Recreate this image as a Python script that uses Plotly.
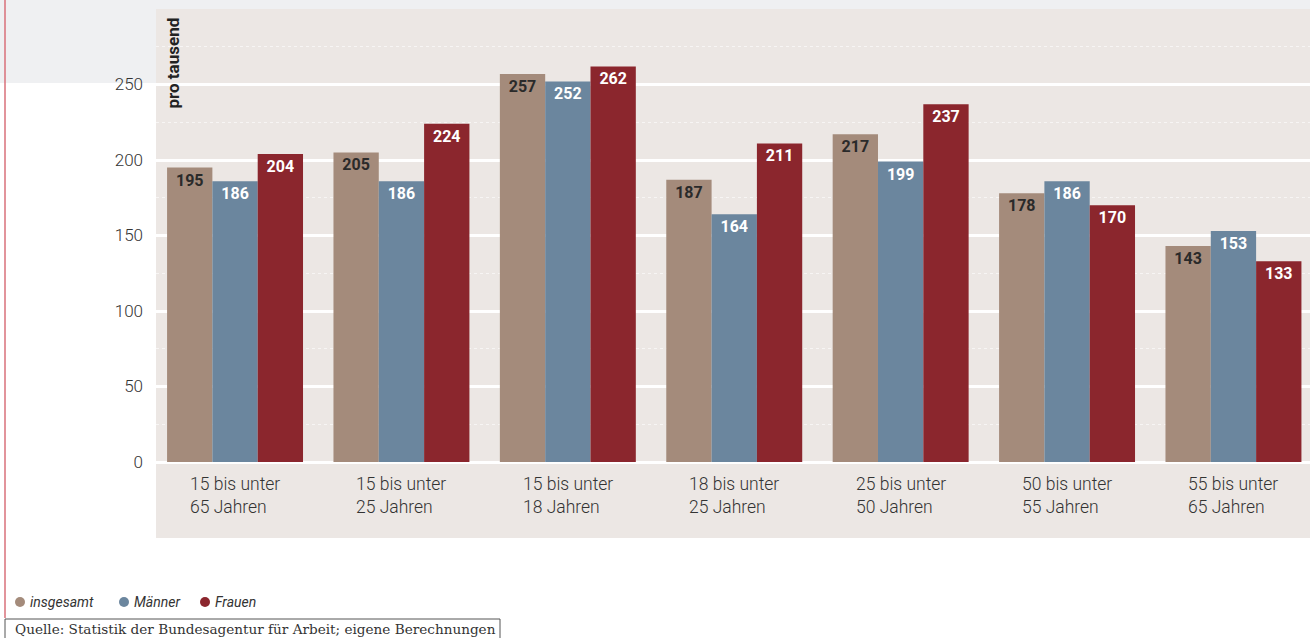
import plotly.graph_objects as go

categories = ["15 bis unter<br>65 Jahren", "15 bis unter<br>25 Jahren", "15 bis unter<br>18 Jahren",
              "18 bis unter<br>25 Jahren", "25 bis unter<br>50 Jahren", "50 bis unter<br>55 Jahren",
              "55 bis unter<br>65 Jahren"]
series_names = ["insgesamt", "Männer", "Frauen"]
insgesamt = [195, 205, 257, 187, 217, 178, 143]
maenner = [186, 186, 252, 164, 199, 186, 153]
frauen = [204, 224, 262, 211, 237, 170, 133]
y_ticks = [0, 50, 100, 150, 200, 250]

colors = ["#a48b7b", "#6b869e", "#8b262d"]
text_colors = ["#2a2a2a", "#ffffff", "#ffffff"]
FONT = "Roboto, Liberation Sans Narrow, sans-serif"

W, H = 1310, 638
L, R, T, B = 156, 0, 9, 176
PW, PH = W - L - R, H - T - B


def px(xp):
    return (xp - L) / PW


def py(yp):
    return (H - B - yp) / PH


fig = go.Figure()
for name, vals, c, tc in zip(series_names, [insgesamt, maenner, frauen], colors, text_colors):
    fig.add_trace(go.Bar(
        x=categories, y=vals, name=name, marker=dict(color=c, line=dict(width=0)),
        text=[str(v) for v in vals], textposition="inside", insidetextanchor="end",
        textangle=0, constraintext="none",
        textfont=dict(family=FONT, size=16, color=tc, weight="bold"),
        showlegend=False, cliponaxis=False,
    ))

shapes = [
    # top grey band
    dict(type="rect", xref="paper", yref="paper", x0=px(0), x1=1, y0=py(83), y1=py(0),
         fillcolor="#eff0f2", line=dict(width=0), layer="below"),
    # chart panel background
    dict(type="rect", xref="paper", yref="paper", x0=0, x1=1, y0=py(538), y1=1,
         fillcolor="#ece7e4", line=dict(width=0), layer="below"),
    # red left border
    dict(type="line", xref="paper", yref="paper", x0=px(5), x1=px(5), y0=py(0), y1=py(618),
         line=dict(color="#d9707a", width=1.5)),
    # source box
    dict(type="rect", xref="paper", yref="paper", x0=px(5), x1=px(500), y0=py(645), y1=py(619),
         fillcolor="rgba(0,0,0,0)", line=dict(color="#555555", width=1)),
]

annotations = [
    dict(text="<b>pro tausend</b>", xref="paper", yref="paper", x=px(161), y=py(16),
         xanchor="left", yanchor="top", textangle=-90, showarrow=False,
         font=dict(family=FONT, size=17, color="#222222")),
    dict(text="Quelle: Statistik der Bundesagentur für Arbeit; eigene Berechnungen",
         xref="paper", yref="paper", x=px(13), y=py(629), xanchor="left", yanchor="middle",
         showarrow=False, font=dict(family="DejaVu Serif", size=13.6, color="#333333")),
]

for cat in categories:
    annotations.append(dict(text=cat, xref="x", yref="paper", x=cat, y=py(472),
                            xanchor="center", yanchor="top", align="left", showarrow=False,
                            font=dict(family=FONT, size=17.5, color="#333333", weight=300)))

legend_x = [20, 124, 205]
for name, c, lx in zip(series_names, colors, legend_x):
    shapes.append(dict(type="circle", xref="paper", yref="paper", xsizemode="pixel",
                       ysizemode="pixel", xanchor=px(lx), yanchor=py(602),
                       x0=-5, x1=5, y0=-5, y1=5, fillcolor=c, line=dict(width=0)))
    annotations.append(dict(text=f"<i>{name}</i>", xref="paper", yref="paper", x=px(lx + 8),
                            y=py(602), xanchor="left", yanchor="middle", showarrow=False,
                            font=dict(family=FONT, size=14, color="#333333")))

fig.update_layout(
    width=W, height=H, margin=dict(l=L, r=R, t=T, b=B, autoexpand=False),
    paper_bgcolor="white", plot_bgcolor="rgba(0,0,0,0)",
    barmode="group", bargap=0.183, bargroupgap=0,
    shapes=shapes, annotations=annotations,
    font=dict(family=FONT, color="#333333"),
)
fig.update_xaxes(range=[-0.475, 6.46], showticklabels=False, showgrid=False, zeroline=False,
                 showline=False, ticks="")
fig.update_yaxes(range=[0, 300], tickvals=y_ticks, showgrid=True, gridcolor="white", gridwidth=3,
                 zeroline=True, zerolinecolor="white", zerolinewidth=3, showline=False,
                 ticklabelstandoff=12, tickfont=dict(family=FONT, size=17, color="#333333", weight=300),
                 minor=dict(dtick=25, tick0=0, showgrid=True, gridcolor="rgba(255,255,255,0.6)",
                            gridwidth=1, griddash="dot"))

fig.write_html("out.html", config={"displayModeBar": False},
               post_script="document.body.style.margin='0';")
